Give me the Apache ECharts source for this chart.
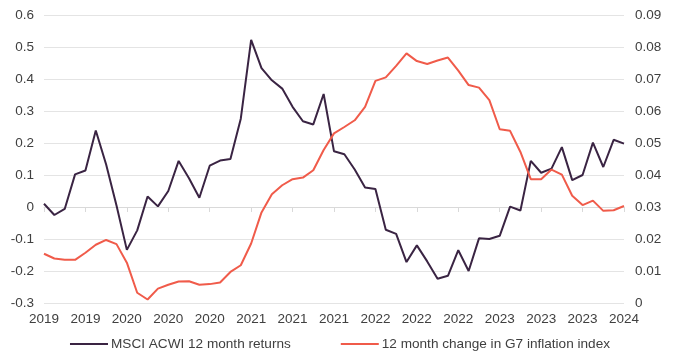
<!DOCTYPE html>
<html>
<head>
<meta charset="utf-8">
<script src="https://cdn.jsdelivr.net/npm/echarts@6/dist/echarts.min.js"></script>
<style>
html,body{margin:0;padding:0;background:#fff;}
#c{width:680px;height:361px;}
</style>
</head>
<body>
<div id="c"></div>
<script>
// Monthly categories (57 points)
var months = [];
(function(){
  var y = 2019, m = 6;
  for (var i = 0; i < 57; i++) {
    months.push(y + '-' + (m < 10 ? '0' + m : m));
    m++; if (m > 12) { m = 1; y++; }
  }
})();

var seriesNames = ['MSCI ACWI 12 month returns', '12 month change in G7 inflation index'];

var acwiReturns = [
  0.01, -0.025, -0.006, 0.102, 0.114, 0.239, 0.133, 0.005, -0.134, -0.073,
  0.033, 0.002, 0.05, 0.144, 0.09, 0.029, 0.129, 0.145, 0.15, 0.276,
  0.522, 0.434, 0.396, 0.37, 0.313, 0.268, 0.258, 0.353, 0.174, 0.165,
  0.117, 0.061, 0.056, -0.071, -0.084, -0.172, -0.12, -0.17, -0.224, -0.215,
  -0.135, -0.2, -0.098, -0.1, -0.09, 0.001, -0.011, 0.144, 0.107, 0.12,
  0.187, 0.084, 0.1, 0.201, 0.125, 0.21, 0.198
];

var g7Inflation = [
  0.0154, 0.0139, 0.0135, 0.0135, 0.0157, 0.0182, 0.0197, 0.0184, 0.0126, 0.0032,
  0.0011, 0.0045, 0.0057, 0.0067, 0.0068, 0.0057, 0.0059, 0.0064, 0.0097, 0.0118,
  0.0186, 0.0283, 0.034, 0.0368, 0.0387, 0.0392, 0.0415, 0.0478, 0.053, 0.055,
  0.0571, 0.0613, 0.0694, 0.0705, 0.0741, 0.078, 0.0756, 0.0747, 0.0758, 0.0767,
  0.0726, 0.0681, 0.0673, 0.0634, 0.0543, 0.0538, 0.0472, 0.0387, 0.0387, 0.0417,
  0.0401, 0.0335, 0.0306, 0.032, 0.0288, 0.029, 0.0303
];

var chart = echarts.init(document.getElementById('c'));
var labelStyle = {color: '#404040', fontSize: 13.5, fontFamily: 'Liberation Sans, Arial, sans-serif'};
chart.setOption({
  animation: false,
  grid: {left: 44, right: 56, top: 15, bottom: 58, containLabel: false},
  legend: {
    bottom: 5,
    left: 'center',
    itemGap: 50,
    itemWidth: 38,
    itemHeight: 2,
    icon: 'rect',
    textStyle: {color: '#404040', fontSize: 13.6, fontFamily: 'Liberation Sans, Arial, sans-serif', padding: [0,0,0,-2]},
    data: seriesNames
  },
  xAxis: {
    type: 'category',
    data: months,
    boundaryGap: false,
    axisLine: {lineStyle: {color: '#d9d9d9', width: 1}},
    axisTick: {show: true, interval: 3, length: 5, lineStyle: {color: '#d9d9d9'}},
    axisLabel: Object.assign({interval: 3, margin: 9, formatter: function(v){ return v.slice(0,4); }}, labelStyle),
    splitLine: {show: false}
  },
  yAxis: [
    {
      type: 'value', min: -0.3, max: 0.6, interval: 0.1,
      axisLine: {show: false}, axisTick: {show: false},
      axisLabel: Object.assign({margin: 10}, labelStyle),
      splitLine: {lineStyle: {color: '#e4e4e4', width: 1}}
    },
    {
      type: 'value', min: 0, max: 0.09, interval: 0.01,
      axisLine: {show: false}, axisTick: {show: false},
      axisLabel: Object.assign({margin: 11}, labelStyle),
      splitLine: {show: false}
    }
  ],
  series: [
    {
      name: seriesNames[0], type: 'line', yAxisIndex: 0, data: acwiReturns,
      showSymbol: false, symbol: 'none',
      lineStyle: {color: '#3a2443', width: 2}, itemStyle: {color: '#3a2443'}
    },
    {
      name: seriesNames[1], type: 'line', yAxisIndex: 1, data: g7Inflation,
      showSymbol: false, symbol: 'none',
      lineStyle: {color: '#f05b4a', width: 2}, itemStyle: {color: '#f05b4a'}
    }
  ]
});
</script>
</body>
</html>
